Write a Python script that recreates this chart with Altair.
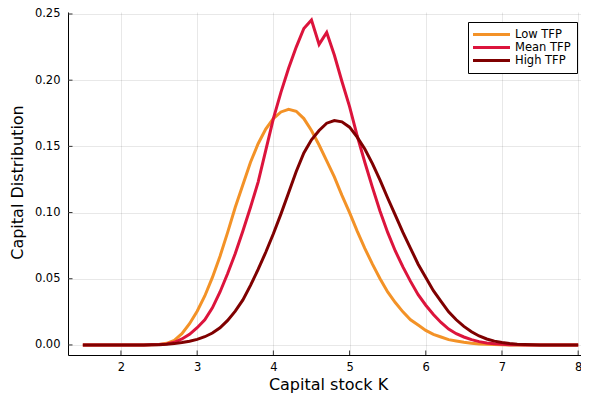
import altair as alt
import pandas as pd

# Capital grid K
k_grid = [1.5, 1.6, 1.7, 1.8, 1.9, 2.0, 2.1, 2.2, 2.3, 2.4, 2.5, 2.6, 2.7, 2.8, 2.9,
          3.0, 3.1, 3.2, 3.3, 3.4, 3.5, 3.6, 3.7, 3.8, 3.9, 4.0, 4.1, 4.2, 4.3, 4.4,
          4.5, 4.6, 4.7, 4.8, 4.9, 5.0, 5.1, 5.2, 5.3, 5.4, 5.5, 5.6, 5.7, 5.8, 5.9,
          6.0, 6.1, 6.2, 6.3, 6.4, 6.5, 6.6, 6.7, 6.8, 6.9, 7.0, 7.1, 7.2, 7.3, 7.4,
          7.5, 7.6, 7.7, 7.8, 7.9, 8.0]

low_tfp = [0, 0, 0, 0, 0, 0, 0, 0, 0,
           0.0001, 0.0004, 0.0012, 0.0035, 0.0085, 0.0160,
           0.0255, 0.037, 0.051, 0.067, 0.085, 0.104, 0.121, 0.138, 0.152, 0.163,
           0.171, 0.176, 0.178, 0.1765, 0.171, 0.162, 0.151, 0.139, 0.127, 0.113,
           0.100, 0.086, 0.073, 0.061, 0.050, 0.040, 0.032, 0.025, 0.019, 0.015,
           0.011, 0.008, 0.006, 0.004, 0.003, 0.002, 0.0013, 0.0008, 0.0005, 0.0003,
           0.0001,
           0, 0, 0, 0, 0, 0, 0, 0, 0, 0]

mean_tfp = [0, 0, 0, 0, 0, 0, 0, 0, 0,
            0.0001, 0.0003, 0.0008, 0.002, 0.0045, 0.008,
            0.013, 0.019, 0.028, 0.040, 0.054, 0.069, 0.086, 0.104, 0.123, 0.147,
            0.171, 0.191, 0.209, 0.225, 0.239, 0.2455, 0.227, 0.236, 0.219, 0.199,
            0.180, 0.158, 0.138, 0.119, 0.101, 0.085, 0.071, 0.059, 0.048, 0.038,
            0.030, 0.023, 0.017, 0.012, 0.0085, 0.006, 0.004, 0.0025, 0.0015, 0.0009,
            0.0005, 0.0002, 0.0001,
            0, 0, 0, 0, 0, 0, 0, 0]

high_tfp = [0, 0, 0, 0, 0, 0, 0, 0, 0,
            0.0001, 0.0002, 0.0005, 0.001, 0.0018, 0.0028,
            0.0042, 0.0062, 0.009, 0.013, 0.0185, 0.0255, 0.034, 0.045, 0.057, 0.070,
            0.084, 0.099, 0.115, 0.131, 0.145, 0.155, 0.162, 0.1675, 0.1695, 0.1685,
            0.1645, 0.157, 0.148, 0.137, 0.1245, 0.111, 0.098, 0.085, 0.073, 0.061,
            0.051, 0.041, 0.033, 0.025, 0.019, 0.014, 0.010, 0.0068, 0.0045, 0.0029,
            0.0018, 0.0011, 0.0006, 0.0003, 0.0001,
            0, 0, 0, 0, 0, 0]

series_names = ["Low TFP", "Mean TFP", "High TFP"]
series_colors = ["#F39227", "#DC143C", "#7F0000"]
x_ticks = [2, 3, 4, 5, 6, 7, 8]
y_ticks = [0.0, 0.05, 0.10, 0.15, 0.20, 0.25]

W, H = 513, 343
FONT = "DejaVu Sans"

rows = []
for name, vals in zip(series_names, [low_tfp, mean_tfp, high_tfp]):
    for k, v in zip(k_grid, vals):
        rows.append({"K": k, "density": v, "series": name})
df = pd.DataFrame(rows)

xscale = alt.Scale(domain=[1.305, 8.037], nice=False, zero=False)
yscale = alt.Scale(domain=[-0.0076, 0.2515], nice=False, zero=False)

common_axis = dict(grid=True, gridColor="#000000", gridOpacity=0.09, gridWidth=1,
                   domainColor="#000000", domainWidth=1, ticks=False, tickSize=0,
                   labelFont=FONT, labelFontSize=11.5, labelColor="#000000",
                   titleFont=FONT, titleFontSize=16, titleFontWeight="normal",
                   titleColor="#000000")

x_enc = alt.X("K:Q", scale=xscale, title="Capital stock K",
              axis=alt.Axis(values=x_ticks, format="d", labelPadding=6,
                            titlePadding=4, titleX=260, **common_axis))
y_enc = alt.Y("density:Q", scale=yscale, title="Capital Distribution",
              axis=alt.Axis(values=y_ticks, format=".2f", labelPadding=8,
                            titleX=-46, titleY=170, titleBaseline="alphabetic",
                            **common_axis))

layers = []
for name, color in zip(series_names, series_colors):
    layers.append(
        alt.Chart(df).transform_filter(alt.datum.series == name)
        .mark_line(color=color, strokeWidth=3)
        .encode(x=x_enc, y=y_enc)
    )

# inward tick marks
ytick_df = pd.DataFrame({"density": y_ticks})
xtick_df = pd.DataFrame({"K": x_ticks})
layers.append(alt.Chart(ytick_df).mark_rule(color="#333333", strokeWidth=1)
              .encode(y=y_enc, x=alt.value(0), x2=alt.value(4.5)))
layers.append(alt.Chart(xtick_df).mark_rule(color="#333333", strokeWidth=1)
              .encode(x=x_enc, y=alt.value(H), y2=alt.value(H - 4.5)))

# legend box
one = alt.Data(values=[{}])
layers.append(alt.Chart(one).mark_rect(fill="white", stroke="black", strokeWidth=1)
              .encode(x=alt.value(400.5), x2=alt.value(509.5),
                      y=alt.value(10.5), y2=alt.value(61.5)))
for i, (name, color) in enumerate(zip(series_names, series_colors)):
    yy = 22.5 + 13 * i
    layers.append(alt.Chart(one).mark_rule(color=color, strokeWidth=3)
                  .encode(x=alt.value(405), x2=alt.value(442), y=alt.value(yy)))
    layers.append(alt.Chart(one).mark_text(align="left", baseline="middle", font=FONT,
                                           fontSize=11.5, color="black")
                  .encode(x=alt.value(447), y=alt.value(yy), text=alt.value(name)))

chart = alt.layer(*layers).properties(
    width=W, height=H,
    autosize=alt.AutoSizeParams(type="none"),
    padding={"left": 60, "top": 4, "right": 0, "bottom": 40},
).configure_view(stroke=None)

chart.save("out.html", embed_options={"renderer": "svg", "actions": False})
